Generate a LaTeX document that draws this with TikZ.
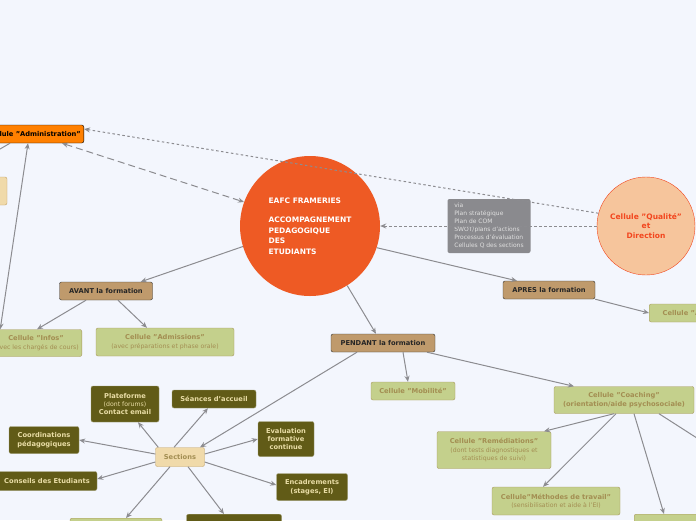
\documentclass[tikz,border=0pt]{standalone}
\usepackage{fontspec}
\setmainfont{DejaVu Sans}
\usetikzlibrary{arrows.meta}
\definecolor{bgc}{HTML}{F3F6FD}
\definecolor{olive}{HTML}{615B17}
\definecolor{olivetxt}{HTML}{E9DDA6}
\definecolor{leaf}{HTML}{C4D08C}
\definecolor{leafdraw}{HTML}{A8985E}
\definecolor{leaftxt}{HTML}{A38E52}
\definecolor{phase}{HTML}{BF9A6C}
\definecolor{sect}{HTML}{F0DAAA}
\definecolor{sectdraw}{HTML}{C3A266}
\definecolor{mainc}{HTML}{EE5A24}
\definecolor{qual}{HTML}{F6C59C}
\definecolor{qualtxt}{HTML}{F2461E}
\definecolor{via}{HTML}{8A8A8E}
\definecolor{link}{HTML}{8C8C90}
\newcommand\subt{\fontsize{6.2}{7.8}\selectfont\mdseries}
\tikzset{
  base/.style={rounded corners=2pt,align=center,font=\fontsize{6.7}{8.4}\selectfont\bfseries,inner sep=3pt},
  phasebox/.style={base,fill=phase,draw=black!80,text=black!85,minimum height=18pt},
  leafbox/.style={base,fill=leaf,draw=leafdraw,text=leaftxt},
  olivebox/.style={base,fill=olive,draw=olive!60!white,text=olivetxt},
  sectbox/.style={base,fill=sect,draw=sectdraw,text=leaftxt},
  edge/.style={draw=link,line width=1pt,-{Stealth[length=6pt,width=5pt]}}
}
\begin{document}
\begin{tikzpicture}[x=1pt,y=-1pt]
  \fill[bgc] (0,0) rectangle (696,520);
  \useasboundingbox (0,0) rectangle (696,520);
  \clip (0,0) rectangle (696,520);
  % Nodes
  \node[circle,fill=mainc,minimum size=140pt,text=white,align=left,font=\fontsize{7.5}{10.5}\selectfont\bfseries] (main) at (310,226) {EAFC FRAMERIES\\[9pt]ACCOMPAGNEMENT\\PEDAGOGIQUE\\DES\\ETUDIANTS};
  \node[circle,fill=qual,draw=qualtxt,minimum size=98pt,text=qualtxt,align=center,font=\fontsize{7.5}{9.5}\selectfont\bfseries] (qual) at (646,226) {Cellule "Qualité"\\et\\Direction};
  \node[base,fill=orange,draw=black,text=black,minimum height=18pt,anchor=east] (admin) at (84,134) {Cellule "Administration"};
  \node[sectbox,minimum width=40pt,minimum height=28pt] (left) at (-13,191) {};
  \node[base,fill=via,text=white!88!black,align=left,font=\fontsize{6}{8}\selectfont,minimum width=83pt,minimum height=54pt] (via) at (489,226) {via\\Plan stratégique\\Plan de COM\\SWOT/plans d'actions\\Processus d'évaluation\\Cellules Q des sections};
  \node[phasebox,minimum width=93pt] (avant) at (106,291) {AVANT la formation};
  \node[phasebox,minimum width=104pt] (pendant) at (383,343) {PENDANT la formation};
  \node[phasebox,minimum width=92pt] (apres) at (549,290) {APRES la formation};
  \node[leafbox,minimum height=27pt,anchor=east] (infos) at (82,343) {Cellule "Infos"\\{\subt (avec les chargés de cours)}};
  \node[leafbox,minimum width=138pt,minimum height=28pt] (admis) at (165,342) {Cellule "Admissions"\\{\subt (avec préparations et phase orale)}};
  \node[leafbox,minimum width=90pt,minimum height=18pt,anchor=west] (alumni) at (649,313) {Cellule "Alumni"};
  \node[leafbox,minimum width=84pt,minimum height=18pt] (mobi) at (413,391) {Cellule "Mobilité"};
  \node[leafbox,minimum width=140pt,minimum height=27pt] (coach) at (624,400) {Cellule "Coaching"\\(orientation/aide psychosociale)};
  \node[leafbox,minimum width=114pt,minimum height=37pt] (remed) at (494,450) {Cellule "Remédiations"\\{\subt (dont tests diagnostiques et}\\{\subt statistiques de suivi)}};
  \node[leafbox,minimum width=128pt,minimum height=28pt] (meth) at (556,501) {Cellule"Méthodes de travail"\\{\subt (sensibilisation et aide à l'EI)}};
  \node[leafbox,minimum width=80pt,minimum height=20pt,anchor=north west] (coachc) at (634,514) {};
  \coordinate (coachd) at (700,440);
  \node[sectbox,minimum width=49pt,minimum height=19pt] (sections) at (180,457) {Sections};
  \node[olivebox,minimum width=68pt,minimum height=36pt] (plat) at (125,404) {Plateforme\\{\subt (dont forums)}\\Contact email};
  \node[olivebox,minimum width=84pt,minimum height=18pt] (seances) at (214,399) {Séances d'accueil};
  \node[olivebox,minimum width=70pt,minimum height=27pt] (coord) at (44,440) {Coordinations\\pédagogiques};
  \node[olivebox,minimum width=56pt,minimum height=35pt] (evalu) at (286,439) {Evaluation\\formative\\continue};
  \node[olivebox,minimum width=100pt,minimum height=19pt] (conseil) at (47,481) {Conseils des Etudiants};
  \node[olivebox,minimum width=71pt,minimum height=27pt] (encad) at (312,487) {Encadrements\\(stages, EI)};
  \node[sectbox,fill=leaf,draw=leafdraw,minimum width=92pt,minimum height=20pt,anchor=north] (secta) at (116,518) {};
  \node[olivebox,minimum width=95pt,minimum height=20pt,anchor=north] (sectb) at (234,514) {};
  % Edges
  \draw[edge,dash pattern=on 7pt off 4pt,{Stealth[length=6pt,width=5pt]}-{Stealth[length=6pt,width=5pt]}] (admin.south east) ++(-22,0) -- (main.160);
  \draw[edge,dash pattern=on 2.5pt off 2.5pt] (qual.165) -- ([yshift=5pt]admin.east);
  \draw[edge,dash pattern=on 2.5pt off 2.5pt] (qual.west) -- (main.east);
  \draw[edge,{Stealth[length=6pt,width=5pt]}-{Stealth[length=6pt,width=5pt]}] ([xshift=-56pt]admin.south east) -- ([xshift=10pt]infos.north west);
  \draw[draw=link,line width=1pt] ([xshift=-74pt]admin.south east) -- ++(-12,7);
  \draw[edge] (main.197) -- ([xshift=-12pt]avant.north east);
  \draw[edge] (main.-58) -- ([xshift=-7pt]pendant.north);
  \draw[edge] (main.-18) -- ([xshift=-32pt]apres.north);
  \draw[edge] (avant.south) ++(-20,0) -- ([xshift=-45pt]infos.north east);
  \draw[edge] (avant.south) ++(12,0) -- ([xshift=-18pt]admis.north);
  \draw[edge] (apres.south east) -- (alumni.west);
  \draw[edge] ([xshift=-26pt]pendant.south) -- ([xshift=20pt]sections.north);
  \draw[edge] ([xshift=20pt]pendant.south) -- ([xshift=-5pt]mobi.north);
  \draw[edge] ([xshift=44pt]pendant.south) -- ([xshift=-50pt]coach.north);
  \draw[edge] ([xshift=-10pt]coach.south) -- ([xshift=50pt]remed.north);
  \draw[edge] ([xshift=-8pt]coach.south) ++(0,0) -- ([xshift=-13pt]meth.north);
  \draw[edge] ([xshift=10pt]coach.south) -- ([xshift=30pt]coachc.north west);
  \draw[draw=link,line width=1pt] ([xshift=35pt]coach.south) -- (coachd);
  \draw[edge] (sections.north west) ++(3,0) -- ([xshift=13pt]plat.south);
  \draw[edge] ([xshift=-6pt]sections.north) -- ([xshift=-6pt]seances.south);
  \draw[edge] (sections.west) ++(0,-3) -- (coord.east);
  \draw[edge] (sections.east) ++(0,-3) -- (evalu.west);
  \draw[edge] (sections.west) ++(0,5) -- ([yshift=2pt]conseil.east);
  \draw[edge] (sections.east) ++(0,5) -- ([yshift=2pt]encad.west);
  \draw[edge] ([xshift=-10pt]sections.south) -- ([xshift=10pt]secta.north);
  \draw[edge] ([xshift=8pt]sections.south) -- ([xshift=-10pt]sectb.north);
\end{tikzpicture}
\end{document}
